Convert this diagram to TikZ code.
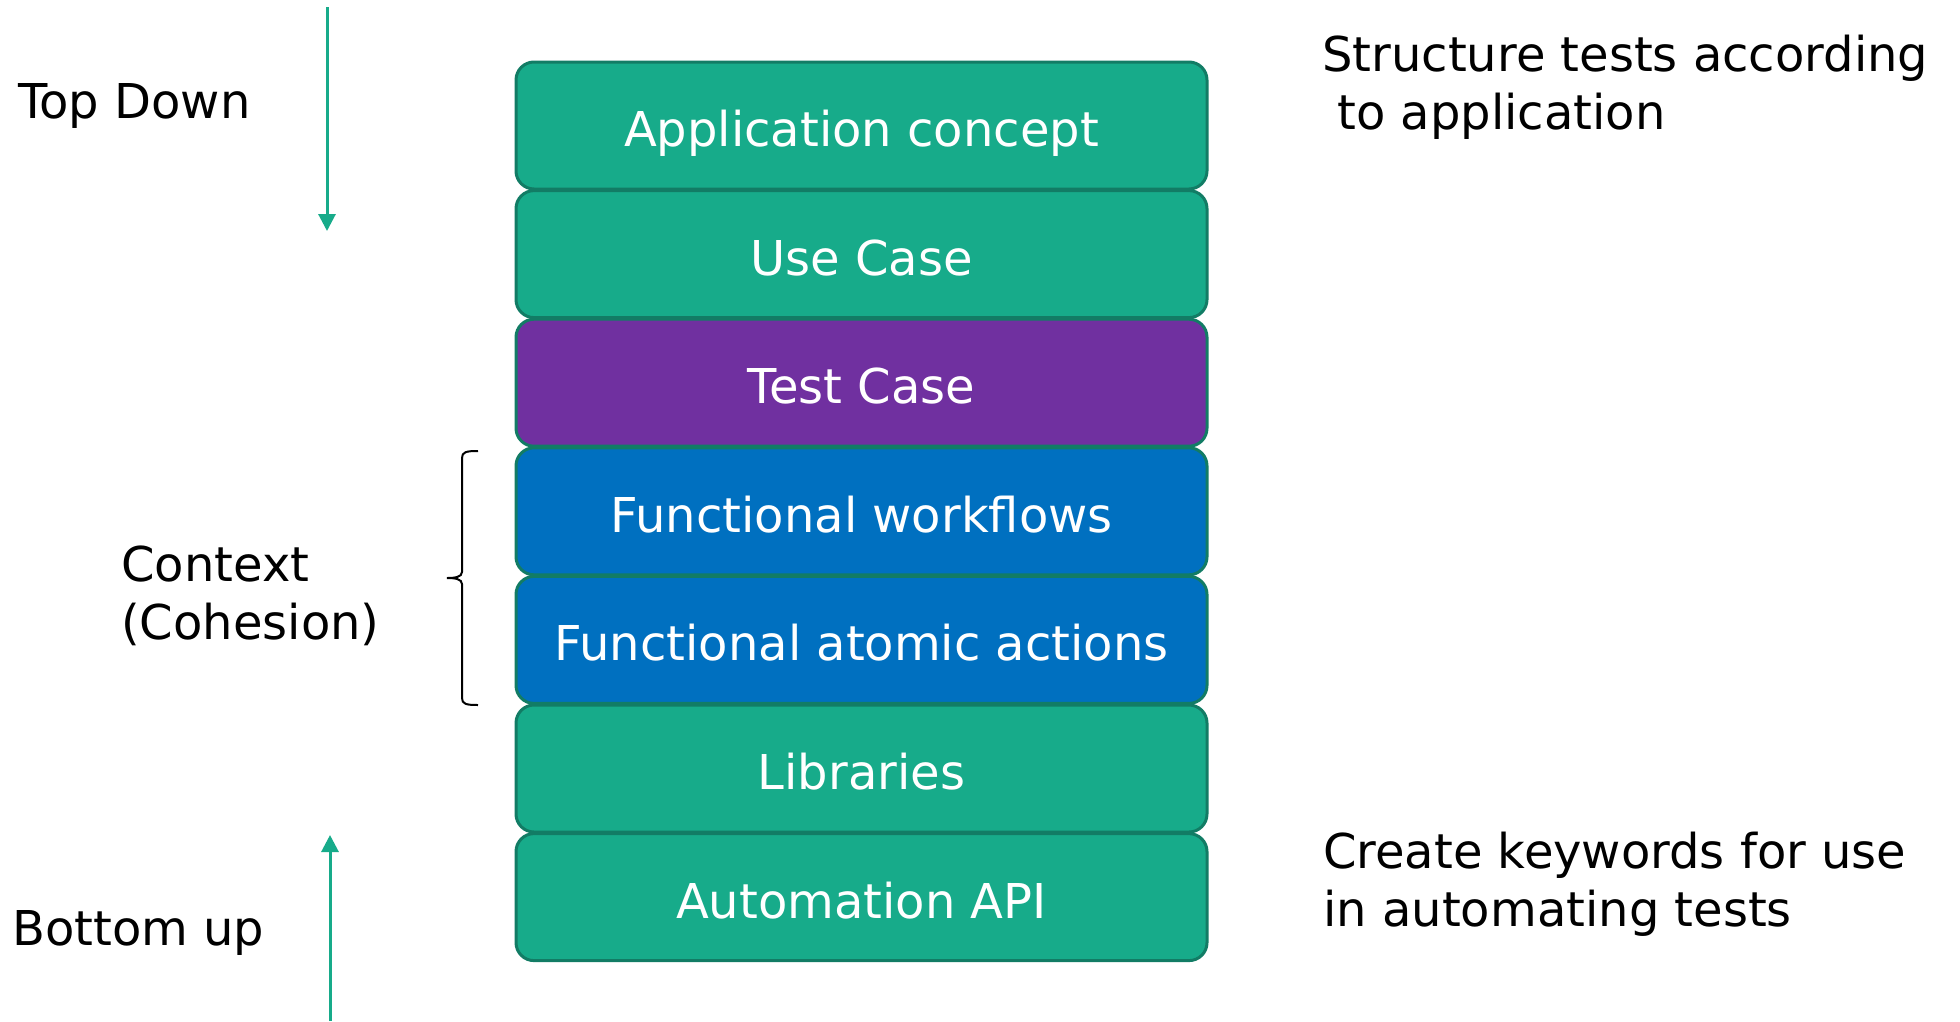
\documentclass[tikz,border=0pt]{standalone}
\usepackage{fontspec}
\setmainfont{DejaVu Sans}
\usetikzlibrary{arrows.meta}

\definecolor{tealfill}{HTML}{17AB8A}
\definecolor{tealedge}{HTML}{127C65}
\definecolor{purplefill}{HTML}{7030A0}
\definecolor{bluefill}{HTML}{0070C0}

\tikzset{
  layer/.style={draw=tealedge, line width=3pt, rounded corners=18pt,
    minimum width=691pt, minimum height=127pt, inner sep=0pt,
    text=white, text height=52pt, text depth=10pt,
    font=\fontsize{48}{57.6}\selectfont},
  greenlayer/.style={layer, fill=tealfill},
  purplelayer/.style={layer, fill=purplefill},
  bluelayer/.style={layer, fill=bluefill},
  label/.style={inner sep=0pt, anchor=base west, align=left,
    font=\fontsize{48}{57.6}\selectfont},
  flow/.style={draw=tealfill, line width=3pt,
    -{Triangle[width=17pt,length=17pt]}},
  bracket/.style={draw=black, line width=2pt}
}

\begin{document}
\begin{tikzpicture}[x=1pt,y=-1pt]
  \useasboundingbox (0,0) rectangle (1960,1021);

  % stacked layers
  \node[greenlayer]  (app)  at (861.5,125.5) {Application concept};
  \node[greenlayer]  (uc)   at (861.5,254.1) {Use Case};
  \node[purplelayer] (tc)   at (861.5,382.7) {Test Case};
  \node[bluelayer]   (fw)   at (861.5,511.3) {Functional workflows};
  \node[bluelayer]   (faa)  at (861.5,639.9) {Functional atomic actions};
  \node[greenlayer]  (lib)  at (861.5,768.5) {Libraries};
  \node[greenlayer]  (api)  at (861.5,897.1) {Automation API};

  % side labels (multi-line labels are anchored on their last baseline)
  \node[label] (top)    at (18,118)   {Top Down};
  \node[label] (ctx)    at (121,639)  {Context\\(Cohesion)};
  \node[label] (bottom) at (12,945)   {Bottom up};
  \node[label] (struct) at (1322,129) {Structure tests according\\\hspace{15pt}to application};
  \node[label] (create) at (1323,926) {Create keywords for use\\in automating tests};

  % direction arrows
  \coordinate (topstart) at (327,7);
  \coordinate (topend)   at (327,231);
  \coordinate (botstart) at (330,1021);
  \coordinate (botend)   at (330,835);
  \draw[flow] (topstart) -- (topend);
  \draw[flow] (botstart) -- (botend);

  % brace grouping the functional layers
  \coordinate (brtop) at (478,451);
  \coordinate (brmid) at (447,578);
  \coordinate (brbot) at (478,705);
  \draw[bracket] (brtop) .. controls (466,451) and (462,452) .. (462,458)
    -- (462,572) .. controls (462,577) and (455,578) .. (brmid)
    .. controls (455,578) and (462,579) .. (462,584)
    -- (462,698) .. controls (462,704) and (466,705) .. (brbot);
\end{tikzpicture}
\end{document}
